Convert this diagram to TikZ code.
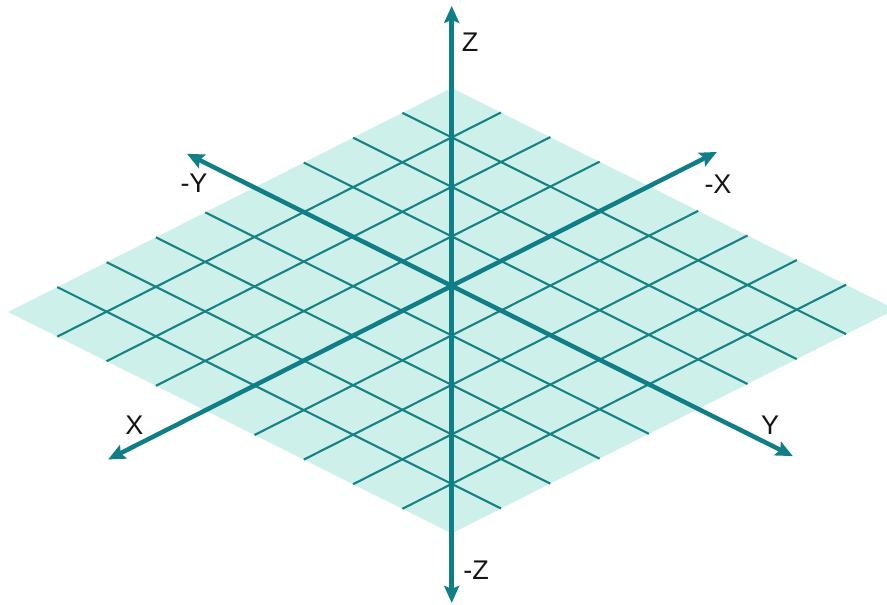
\documentclass[tikz,border=0pt]{standalone}
\usepackage{fontspec}
\setmainfont{Liberation Sans}
\usetikzlibrary{arrows.meta,calc}
\definecolor{axiscol}{RGB}{16,126,134}
\definecolor{gridcol}{RGB}{22,130,132}
\definecolor{planefill}{RGB}{205,240,234}
\definecolor{labelcol}{RGB}{20,20,20}
\begin{document}
\begin{tikzpicture}[x=1pt,y=-1pt,
  axisline/.style={draw=axiscol,line width=4.5pt,
    {Stealth[length=17pt,width=15pt,inset=3pt]}-{Stealth[length=17pt,width=15pt,inset=3pt]}},
  gridline/.style={draw=gridcol,line width=2.1pt},
  axlabel/.style={text=labelcol,font=\fontsize{27}{27}\selectfont,inner sep=0pt}]
\useasboundingbox (0,0) rectangle (887,605);
% plane
\coordinate (L) at (8,312);
\coordinate (u) at (49.3,24.6);
\coordinate (v) at (49.3,-24.9);
\coordinate (T) at ($(L)+9*(v)$);
\coordinate (B) at ($(L)+9*(u)$);
\coordinate (R) at ($(T)+9*(u)$);
\fill[planefill] (L) -- (T) -- (R) -- (B) -- cycle;
% grid
\foreach \i in {1,...,8}{
  \draw[gridline] ($(L)+\i*(v)$) -- ($(L)+\i*(v)+9*(u)$);
  \draw[gridline] ($(L)+\i*(u)$) -- ($(L)+\i*(u)+9*(v)$);
}
% axes
\coordinate (O) at ($(L)+5*(v)+4*(u)$);
\coordinate (Ztop) at ($(O)+(0,-280)$);
\coordinate (Zbot) at ($(O)+(0,317)$);
\coordinate (Xpos) at ($(O)-6.97*(v)$);
\coordinate (Xneg) at ($(O)+5.38*(v)$);
\coordinate (Yneg) at ($(O)-5.37*(u)$);
\coordinate (Ypos) at ($(O)+6.92*(u)$);
\draw[axisline] (Zbot) -- (Ztop);
\draw[axisline] (Xpos) -- (Xneg);
\draw[axisline] (Yneg) -- (Ypos);
% labels
\node[axlabel] (lz) at (470,42) {Z};
\node[axlabel] (lmz) at (476,570) {-Z};
\node[axlabel] (lmy) at (194,183) {-Y};
\node[axlabel] (lmx) at (718,184) {-X};
\node[axlabel] (lx) at (134.5,425) {X};
\node[axlabel] (ly) at (770,425) {Y};
\end{tikzpicture}
\end{document}
